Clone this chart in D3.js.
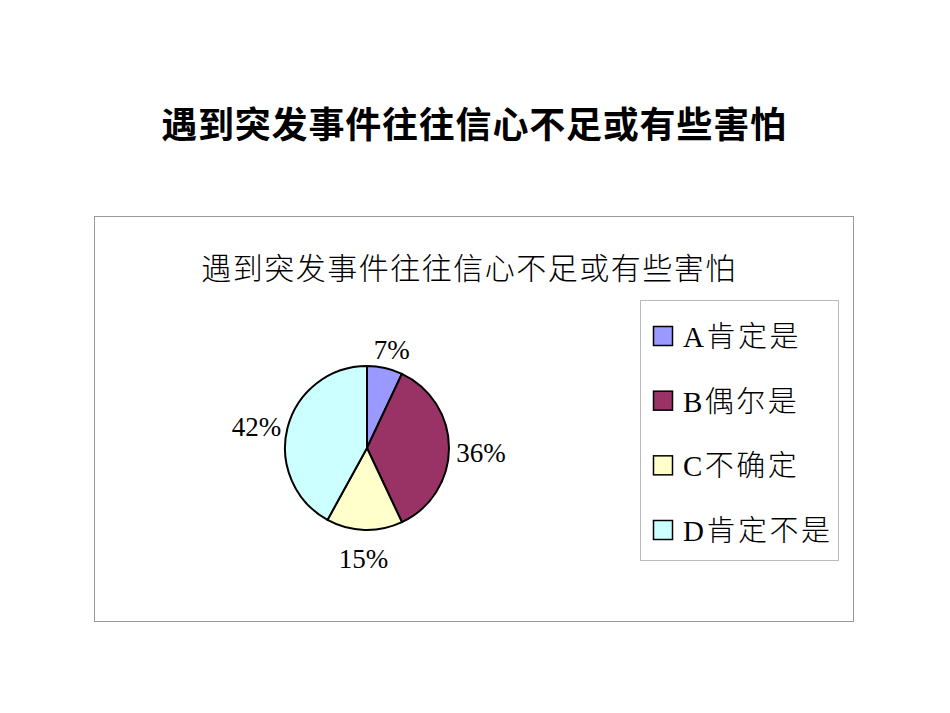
<!DOCTYPE html>
<html><head><meta charset="utf-8">
<script src="https://cdn.jsdelivr.net/npm/d3@7"></script>
<style>body{margin:0;background:#fff}</style>
</head><body>
<svg id="c" width="950" height="713"></svg>
<script>
const categories = ["A肯定是", "B偶尔是", "C不确定", "D肯定不是"];
const values = [7, 36, 15, 42];
const colors = ["#9999FF", "#993366", "#FFFFCC", "#CCFFFF"];
const pageTitle = "遇到突发事件往往信心不足或有些害怕";
const chartTitle = "遇到突发事件往往信心不足或有些害怕";

const svg = d3.select("#c");
const cjk = "'Noto Sans CJK SC', sans-serif";
const serif = "'Liberation Serif', 'DejaVu Serif', serif";
const mixed = "'Liberation Serif', 'Noto Sans CJK SC', serif";

svg.append("text").attr("x", 474).attr("y", 138).attr("text-anchor", "middle")
  .attr("font-family", cjk).attr("font-weight", 700).attr("font-size", 36)
  .attr("letter-spacing", 0.8).text(pageTitle);

svg.append("rect").attr("x", 94.5).attr("y", 216.5).attr("width", 759).attr("height", 405)
  .attr("fill", "#fff").attr("stroke", "#999").attr("stroke-width", 1);

svg.append("text").attr("x", 469).attr("y", 279).attr("text-anchor", "middle")
  .attr("font-family", cjk).attr("font-weight", 300).attr("font-size", 30)
  .attr("letter-spacing", 1.5).text(chartTitle);

const cx = 367, cy = 448, r = 82;
const pie = d3.pie().sort(null).value(d => d)(values);
const arc = d3.arc().innerRadius(0).outerRadius(r);
const total = d3.sum(values);
const lrx = 114, lry = 106;
const mid = d => (d.startAngle + d.endAngle) / 2;
const g = svg.append("g").attr("transform", `translate(${cx},${cy})`);
g.selectAll("path").data(pie).enter().append("path")
  .attr("d", arc).attr("fill", (d, i) => colors[i])
  .attr("stroke", "#000").attr("stroke-width", 2).attr("stroke-linejoin", "round");
g.selectAll("text").data(pie).enter().append("text")
  .attr("x", d => lrx * Math.sin(mid(d)))
  .attr("y", d => -lry * Math.cos(mid(d)) + 5)
  .attr("dy", "0.35em")
  .attr("text-anchor", "middle")
  .attr("font-family", serif).attr("font-size", 27)
  .text(d => Math.round(d.data / total * 100) + "%");

svg.append("rect").attr("x", 640.5).attr("y", 300.5).attr("width", 198).attr("height", 260)
  .attr("fill", "#fff").attr("stroke", "#bbb").attr("stroke-width", 1);
const ly = d3.scalePoint().domain(categories).range([336, 530]);
const lg = svg.append("g").selectAll("g").data(categories).enter().append("g")
  .attr("transform", d => `translate(653,${ly(d)})`);
lg.append("rect").attr("x", 0.5).attr("y", -9.5).attr("width", 19).attr("height", 19)
  .attr("fill", (d, i) => colors[i]).attr("stroke", "#000").attr("stroke-width", 1.5);
lg.append("text").attr("x", 30).attr("y", 11)
  .attr("font-family", mixed).attr("font-weight", 300).attr("font-size", 29)
  .attr("letter-spacing", 2.5)
  .text(d => d);
</script>
</body></html>
